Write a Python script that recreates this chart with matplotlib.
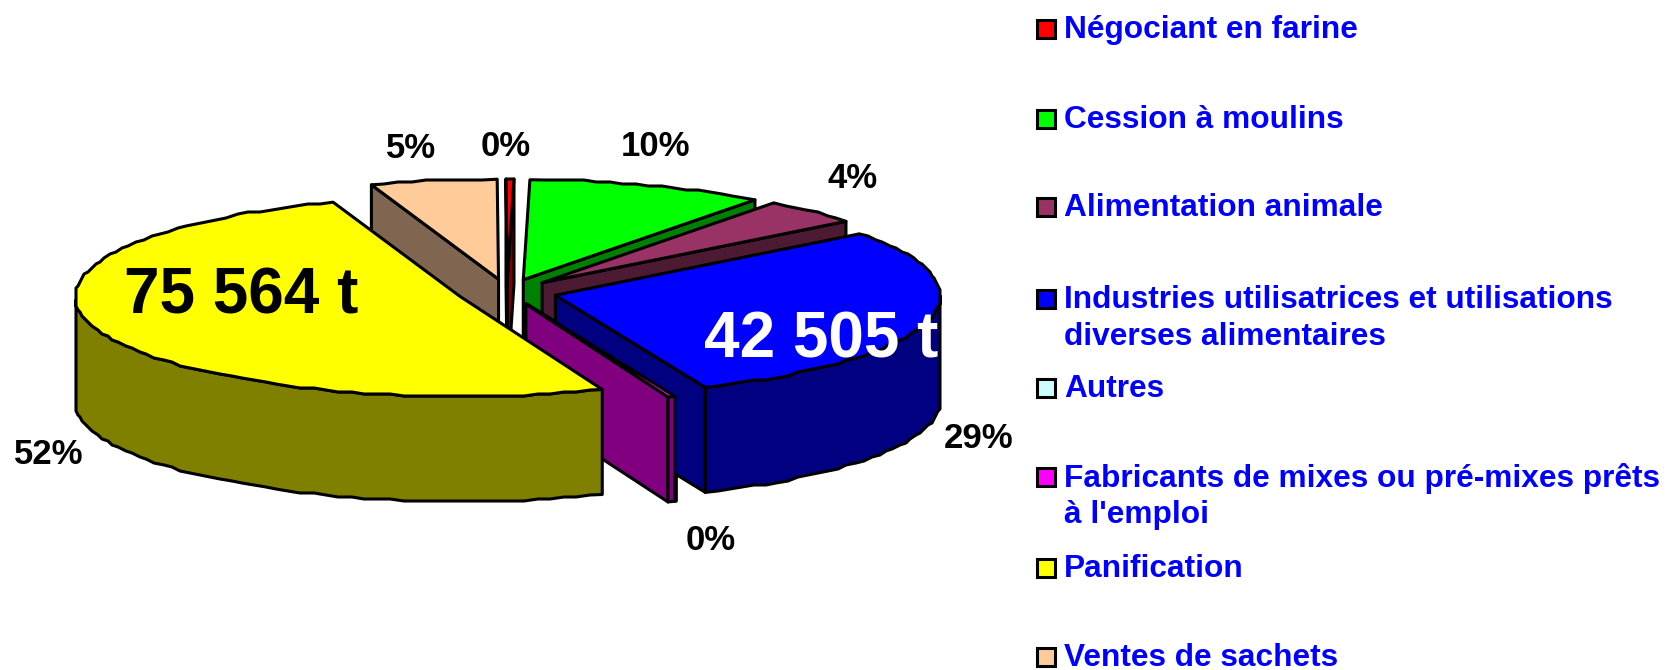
#!/usr/bin/env python3
"""Exploded 3D pie of flour outlets, drawn as projected polygons, with a hand-placed legend."""

import numpy as np
import matplotlib

matplotlib.use("Agg")
import matplotlib.pyplot as plt
from matplotlib.patches import Polygon, Rectangle

plt.rcParams["font.family"] = ["Liberation Sans", "DejaVu Sans"]

# slices, clockwise from the top of the pie
categories = [
    "Négociant en farine",
    "Cession à moulins",
    "Alimentation animale",
    "Industries utilisatrices et utilisations\ndiverses alimentaires",
    "Autres",
    "Fabricants de mixes ou pré-mixes prêts\nà l'emploi",
    "Panification",
    "Ventes de sachets",
]
# shares as measured from the wedge angles in the picture
shares = [0.33, 10.0, 4.2, 29.15, 0.05, 0.3, 50.65, 5.3]
percent_labels = ["0%", "10%", "4%", "29%", None, "0%", "52%", "5%"]
tonnage_labels = [None, None, None, "42 505 t", None, None, "75 564 t", None]

top_colors = ["#FF0000", "#00FF00", "#993366", "#0000FF", "#CCFFFF", "#FF00FF", "#FFFF00", "#FFCC99"]
side_colors = ["#800000", "#008000", "#4D1A33", "#000080", "#668080", "#800080", "#808000", "#806650"]

# layout, in pixels of the 1668x670 picture
CX, CY = 507, 292
RX, RY = 385, 100
DEPTH = 105
EXPLODE = 50
START = 90.2
LW = 2.2
RIM_STEP = 2  # degrees between rim vertices
RIM_GRID = 2  # the rim is snapped to this pixel grid, which gives it its rough edge

draw_order = [7, 0, 1, 2, 4, 3, 5, 6]
percent_pos = [(506, 147), (656, 147), (853, 178), (979, 439), None, (711, 541), (49, 454), (411, 149)]
tonnage_pos = [None, None, None, (704, 358), None, None, (124, 314), None]
tonnage_colors = [None, None, None, "white", None, None, "black", None]
legend_y = [30, 120, 208, 300, 389, 478, 569, 658]
LEGEND_LINE = 37


def slice_angles(values, start):
    spans = np.array(values) / sum(values) * 360
    ends = start - np.cumsum(spans)
    starts = ends + spans
    return starts, ends


def draw_slice(ax, t0, t1, top, side):
    mid = np.radians((t0 + t1) / 2)
    ox = CX + EXPLODE * np.cos(mid)
    oy = CY - EXPLODE * np.sin(mid) * RY / RX

    count = max(int(abs(t0 - t1) / RIM_STEP) + 1, 2)
    t = np.radians(np.linspace(t0, t1, count))
    rim_x = ox + RX * np.cos(t)
    rim_y = oy - RY * np.sin(t)
    rim_x[1:-1] = np.round(rim_x[1:-1] / RIM_GRID) * RIM_GRID
    rim_y[1:-1] = np.round(rim_y[1:-1] / RIM_GRID) * RIM_GRID

    style = dict(edgecolor="black", linewidth=LW, joinstyle="round")

    # radial cut faces that look towards the viewer
    for angle in (t0, t1):
        a = np.radians(angle)
        facing = np.cos(a) > 0 if angle == t1 else np.cos(a) < 0
        if facing:
            ex, ey = ox + RX * np.cos(a), oy - RY * np.sin(a)
            face = [(ox, oy), (ex, ey), (ex, ey + DEPTH), (ox, oy + DEPTH)]
            ax.add_patch(Polygon(face, facecolor=side, **style))

    # outer wall, front half of the rim only
    front = np.sin(t) <= 0
    if front.sum() > 1:
        wall = list(zip(rim_x[front], rim_y[front]))
        wall += list(zip(rim_x[front][::-1], rim_y[front][::-1] + DEPTH))
        ax.add_patch(Polygon(wall, facecolor=side, **style))

    face = [(ox, oy)] + list(zip(rim_x, rim_y))
    ax.add_patch(Polygon(face, facecolor=top, **style))


def main():
    fig = plt.figure(figsize=(16.68, 6.70), dpi=100)
    ax = fig.add_axes([0, 0, 1, 1])
    ax.set_xlim(0, 1668)
    ax.set_ylim(670, 0)
    ax.axis("off")

    starts, ends = slice_angles(shares, START)
    for i in draw_order:
        draw_slice(ax, starts[i], ends[i], top_colors[i], side_colors[i])

    for label, pos in zip(percent_labels, percent_pos):
        if label:
            ax.text(pos[0], pos[1], label, fontsize=25, fontweight="bold",
                    ha="center", va="center", color="black")

    for label, pos, color in zip(tonnage_labels, tonnage_pos, tonnage_colors):
        if label:
            ax.text(pos[0], pos[1], label, fontsize=46, fontweight="bold",
                    ha="left", va="baseline", color=color)

    for name, color, y in zip(categories, top_colors, legend_y):
        ax.add_patch(Rectangle((1037, y - 10), 18, 18, facecolor=color,
                               edgecolor="black", linewidth=LW))
        for n, line in enumerate(name.split("\n")):
            ax.text(1064, y + n * LEGEND_LINE, line, fontsize=22.8, fontweight="bold",
                    ha="left", va="center", color="#0000FF")

    fig.savefig("out.png", dpi=100, facecolor="white")
    plt.close(fig)


if __name__ == "__main__":
    main()
